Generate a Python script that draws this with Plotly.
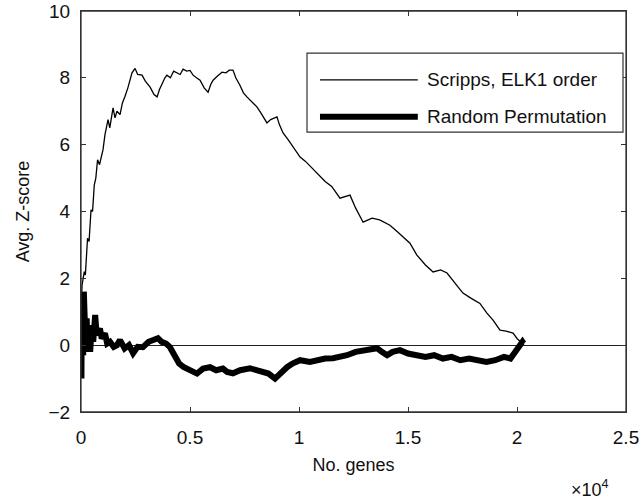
import plotly.graph_objects as go

# ---- data (x in number of genes) ----
scripps_x = [0, 50, 100, 150, 200, 250, 300, 370, 460, 530, 610, 680, 760, 850, 1010, 1100, 1240, 1320,
             1470, 1560, 1650, 1790, 1900, 2020, 2150, 2340, 2480, 2600, 2800, 2950, 3170, 3350, 3490, 3600,
             3720, 3850, 3940, 4100, 4250, 4400, 4550, 4680, 4850, 5000, 5140, 5300, 5460, 5650, 5830, 5950,
             6060, 6250, 6470, 6650, 6800, 6970, 7100, 7290, 7450, 7610, 7800, 8070, 8250, 8530, 8700, 8990,
             9100, 9270, 9500, 9720, 10050, 10300, 10600, 10960, 11200, 11500, 11880, 12340, 12600, 12940,
             13350, 13700, 14170, 14500, 15090, 15400, 15800, 16150, 16500, 16790, 17100, 17520, 17900, 18300,
             18620, 18900, 19220, 19500, 19820, 20000, 20230, 20300]
scripps_y = [1.0, 1.8, 2.0, 2.2, 2.1, 2.6, 3.2, 3.1, 4.05, 4.0, 4.8, 5.0, 5.55, 5.4, 5.85, 6.3, 6.75, 6.5,
             7.1, 6.8, 7.0, 6.9, 7.25, 7.45, 7.7, 8.15, 8.28, 8.1, 8.08, 7.9, 7.72, 7.5, 7.43, 7.65,
             7.84, 8.0, 8.08, 8.0, 8.2, 8.14, 8.1, 8.26, 8.2, 8.22, 8.08, 8.0, 7.93, 7.7, 7.57, 7.8,
             7.93, 8.05, 8.17, 8.15, 8.23, 8.23, 8.0, 7.78, 7.55, 7.43, 7.3, 7.13, 6.95, 6.65, 6.75, 6.83,
             6.6, 6.35, 6.15, 5.93, 5.63, 5.5, 5.3, 5.03, 4.9, 4.75, 4.4, 4.49, 4.1, 3.68,
             3.8, 3.75, 3.59, 3.4, 3.05, 2.7, 2.4, 2.19, 2.25, 2.16, 1.9, 1.56, 1.4, 1.25,
             0.96, 0.75, 0.45, 0.42, 0.36, 0.2, 0.06, 0.0]

random_x = [0, 20, 40, 60, 80, 100, 130, 160, 190, 220, 260, 300, 350, 420, 500, 560, 650, 720, 870, 950,
            1100, 1200, 1330, 1500, 1650, 1790, 2000, 2200, 2390, 2600, 2840, 3100, 3300, 3530, 3700, 3900,
            4080, 4300, 4500, 4700, 5000, 5320, 5600, 5920, 6200, 6510, 6700, 6970, 7300, 7750, 8050, 8350,
            8600, 8900, 9200, 9450, 9700, 10050, 10500, 10830, 11200, 11560, 11900, 12200, 12600, 12940,
            13300, 13580, 13800, 14040, 14300, 14630, 15000, 15400, 15800, 16200, 16600, 17000, 17400,
            17800, 18200, 18600, 19000, 19400, 19700, 19900, 20100, 20250, 20300]
random_y = [0.0, -1.0, 1.6, 0.4, 1.5, -0.3, 1.6, 0.2, 1.2, -0.2, 0.8, 0.0, 0.3, -0.2, 0.6, 0.1, 0.9, 0.3, 0.5, 0.2,
            0.35, 0.05, 0.1, -0.05, 0.0, 0.15, -0.1, 0.0, -0.24, -0.05, -0.06, 0.1, 0.15, 0.21, 0.1, 0.05,
            -0.06, -0.3, -0.55, -0.65, -0.75, -0.85, -0.7, -0.66, -0.75, -0.7, -0.8, -0.84, -0.75, -0.69, -0.75, -0.81,
            -0.85, -1.0, -0.8, -0.66, -0.55, -0.45, -0.5, -0.45, -0.4, -0.39, -0.35, -0.3, -0.2, -0.15,
            -0.12, -0.09, -0.2, -0.3, -0.2, -0.15, -0.25, -0.3, -0.35, -0.3, -0.4, -0.35, -0.45,
            -0.4, -0.45, -0.5, -0.45, -0.35, -0.4, -0.2, 0.0, 0.1, 0.05]

x_tick_vals = [0, 5000, 10000, 15000, 20000, 25000]
x_tick_text = ["0", "0.5", "1", "1.5", "2", "2.5"]
y_tick_vals = [-2, 0, 2, 4, 6, 8, 10]
series_names = ["Scripps, ELK1 order", "Random Permutation"]

FONT = "Liberation Sans, Arial, sans-serif"
AXC = "#333333"

fig = go.Figure()
fig.add_trace(go.Scatter(x=scripps_x, y=scripps_y, mode="lines", name=series_names[0],
                         line=dict(color="black", width=1.3), showlegend=False))
fig.add_trace(go.Scatter(x=random_x, y=random_y, mode="lines", name=series_names[1],
                         line=dict(color="black", width=6), showlegend=False))

axis_common = dict(showline=True, linecolor=AXC, linewidth=1.3, mirror="allticks", ticks="inside",
                   ticklen=5, tickwidth=1.2, tickcolor=AXC, showgrid=False, automargin=False,
                   tickfont=dict(family=FONT, size=19, color="#111111"))
fig.update_xaxes(range=[0, 25000], tickvals=x_tick_vals, ticktext=x_tick_text, zeroline=False,
                 title=dict(text="No. genes", font=dict(family=FONT, size=18, color="#111111"), standoff=11),
                 ticklabelstandoff=8, **axis_common)
fig.update_yaxes(range=[-2, 10], tickvals=y_tick_vals, zeroline=True, zerolinecolor="#222222",
                 zerolinewidth=1.2,
                 title=dict(text="Avg. Z-score", font=dict(family=FONT, size=18, color="#111111"), standoff=14),
                 ticklabelstandoff=6, **axis_common)

# plot-area box (MATLAB "box on")
fig.add_shape(type="rect", xref="paper", yref="paper", x0=0, x1=1, y0=0, y1=1,
              line=dict(color=AXC, width=1.3), fillcolor="rgba(0,0,0,0)", layer="above")

# manual legend (MATLAB-style box with long line samples)
fig.add_shape(type="rect", xref="paper", yref="paper", x0=0.4147, x1=0.9945, y0=0.698, y1=0.895,
              line=dict(color=AXC, width=1.2), fillcolor="white", layer="above")
fig.add_shape(type="line", xref="paper", yref="paper", x0=0.4385, x1=0.618, y0=0.828, y1=0.828,
              line=dict(color="black", width=1.3), layer="above")
fig.add_shape(type="line", xref="paper", yref="paper", x0=0.4385, x1=0.618, y0=0.736, y1=0.736,
              line=dict(color="black", width=6), layer="above")
for yy, name in zip([0.828, 0.736], series_names):
    fig.add_annotation(xref="paper", yref="paper", x=0.631, y=yy, text=name, showarrow=False,
                       xanchor="left", yanchor="middle", font=dict(family=FONT, size=19, color="#111111"))

fig.add_annotation(xref="paper", yref="paper", x=0.895, y=-0.19, text="×10<sup>4</sup>", showarrow=False,
                   xanchor="left", yanchor="middle", font=dict(family=FONT, size=18, color="#111111"))

fig.update_layout(width=642, height=499, margin=dict(l=81, r=16, t=11, b=87),
                  plot_bgcolor="white", paper_bgcolor="white", showlegend=False)

# remove the default page margin so the 642x499 figure fills the window exactly
fig.write_html("out.html", config={"displayModeBar": False},
               post_script="document.body.style.margin='0';document.body.style.overflow='hidden';")
